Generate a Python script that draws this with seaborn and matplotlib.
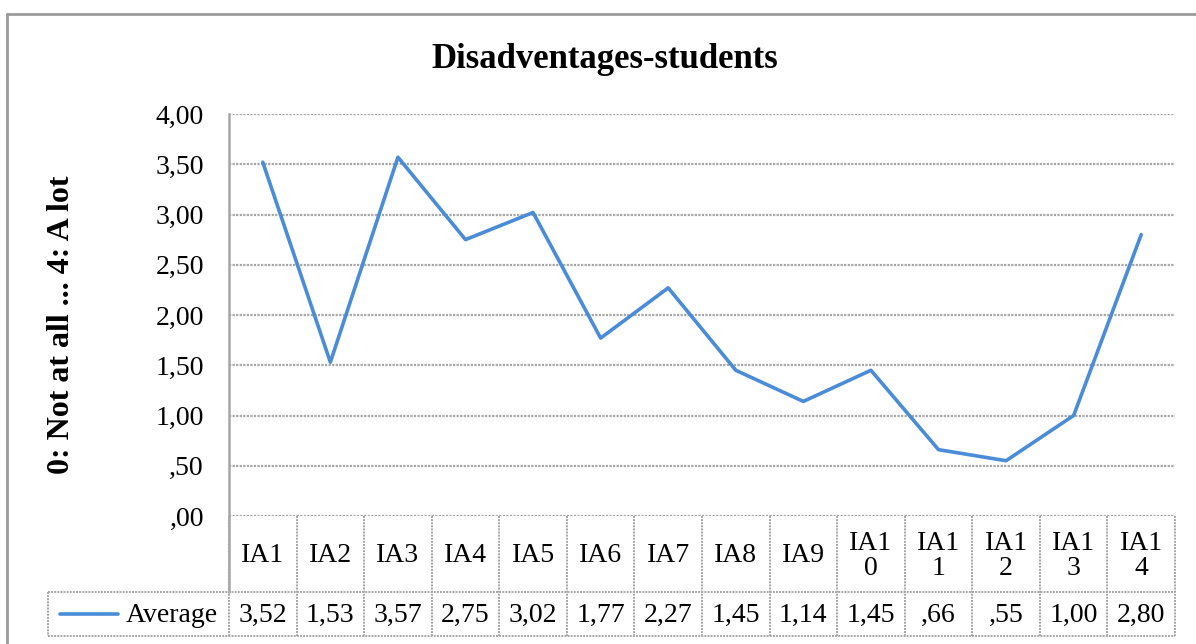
import numpy as np
import pandas as pd
import seaborn as sns
import matplotlib.pyplot as plt
from matplotlib.lines import Line2D

# data
items = ["IA1", "IA2", "IA3", "IA4", "IA5", "IA6", "IA7", "IA8", "IA9",
         "IA10", "IA11", "IA12", "IA13", "IA14"]
header_labels = ["IA1", "IA2", "IA3", "IA4", "IA5", "IA6", "IA7", "IA8", "IA9",
                 "IA1\n0", "IA1\n1", "IA1\n2", "IA1\n3", "IA1\n4"]
average = [3.52, 1.53, 3.57, 2.75, 3.02, 1.77, 2.27, 1.45, 1.14,
           1.45, 0.66, 0.55, 1.00, 2.80]
y_ticks = [0, 0.5, 1.0, 1.5, 2.0, 2.5, 3.0, 3.5, 4.0]
series_name = "Average"
title = "Disadventages-students"
y_label = "0: Not at all ... 4: A lot"


def fmt(v):
    s = "{:.2f}".format(v).replace(".", ",")
    if s.startswith("0,"):
        s = s[1:]
    return s


sns.set_theme(style="white")
plt.rcParams["font.family"] = ["Liberation Serif", "DejaVu Serif"]
plt.rcParams["text.color"] = "black"
plt.rcParams["ytick.color"] = "black"
plt.rcParams["ytick.labelcolor"] = "black"

W, H = 1196, 644
fig = plt.figure(figsize=(W / 100, H / 100), dpi=100)

line_color = "#4A8CD7"
grid_color = "#a6a6a6"

# plot area (pixel positions from the reference)
x0, x1 = 229, 1175
y_top, y_zero = 114, 516
ax = fig.add_axes([x0 / W, 1 - y_zero / H, (x1 - x0) / W, (y_zero - y_top) / H])

df = pd.DataFrame({"item": items, "pos": np.arange(len(items)), "avg": average})
sns.lineplot(data=df, x="pos", y="avg", ax=ax, color=line_color, linewidth=2.6)

ax.set_xlim(-0.5, len(items) - 0.5)
ax.set_ylim(0, 4)
ax.set_yticks(y_ticks)
ax.set_yticklabels([fmt(v) for v in y_ticks], fontsize=20, color="black")
ax.set_xticks([])
ax.set_xlabel("")
ax.set_ylabel("")
ax.tick_params(axis="y", length=0, pad=18)
for v in y_ticks:
    ax.axhline(v, color=grid_color, linestyle=(0, (1, 0.6)), linewidth=1.6, zorder=0)
for s in ["top", "right", "bottom"]:
    ax.spines[s].set_visible(False)
ax.spines["left"].set_color(grid_color)
ax.spines["left"].set_linewidth(1.8)

fig.text(605 / W, 1 - 59 / H, title, ha="center", va="center",
         fontsize=25, fontweight="bold")
fig.text(62 / W, 1 - 325 / H, y_label, ha="center", va="center",
         rotation=90, fontsize=23, fontweight="bold")

# data table under the plot
t_bottom = 636
ax_t = fig.add_axes([x0 / W, 1 - t_bottom / H, (x1 - x0) / W, (t_bottom - y_zero) / H])
ax_t.set_xlim(-0.5, len(items) - 0.5)
ax_t.set_ylim(t_bottom - y_zero, 0)
ax_t.axis("off")

col_px = (x1 - x0) / len(items)
leg_left = -0.5 - (x0 - 48) / col_px
hdr = 592 - y_zero
bot = t_bottom - y_zero
dot = (0, (1, 0.6))

# horizontal rules
ax_t.plot([leg_left, len(items) - 0.5], [hdr, hdr], color=grid_color, ls=dot, lw=1.4, clip_on=False)
ax_t.plot([leg_left, len(items) - 0.5], [bot, bot], color=grid_color, ls=dot, lw=1.4, clip_on=False)
# vertical rules
for i in range(len(items) + 1):
    xv = i - 0.5
    ax_t.plot([xv, xv], [0, bot], color=grid_color, ls=dot, lw=1.4, clip_on=False)
ax_t.plot([-0.5, -0.5], [0, hdr], color=grid_color, lw=1.8, clip_on=False)
ax_t.plot([leg_left, leg_left], [hdr, bot], color=grid_color, ls=dot, lw=1.4, clip_on=False)

for i, lab in enumerate(header_labels):
    ax_t.text(i, hdr / 2 + 2, lab, ha="center", va="center", fontsize=20,
              linespacing=1.0)
for i, v in enumerate(average):
    ax_t.text(i, (hdr + bot) / 2 + 1, fmt(v), ha="center", va="center", fontsize=20)

# legend key inside the table
ax_t.plot([leg_left + 12 / col_px, leg_left + 70 / col_px], [(hdr + bot) / 2, (hdr + bot) / 2],
          color=line_color, lw=2.6, clip_on=False)
ax_t.text(-0.5 - 11 / col_px, (hdr + bot) / 2 + 1, series_name, ha="right", va="center",
          fontsize=20)

# outer chart frame (top and left edges visible)
fig.add_artist(Line2D([7 / W, 1], [1 - 14 / H, 1 - 14 / H], color="#9a9a9a", lw=2))
fig.add_artist(Line2D([7 / W, 7 / W], [0, 1 - 14 / H], color="#9a9a9a", lw=2))

fig.savefig("out.png", dpi=100)
